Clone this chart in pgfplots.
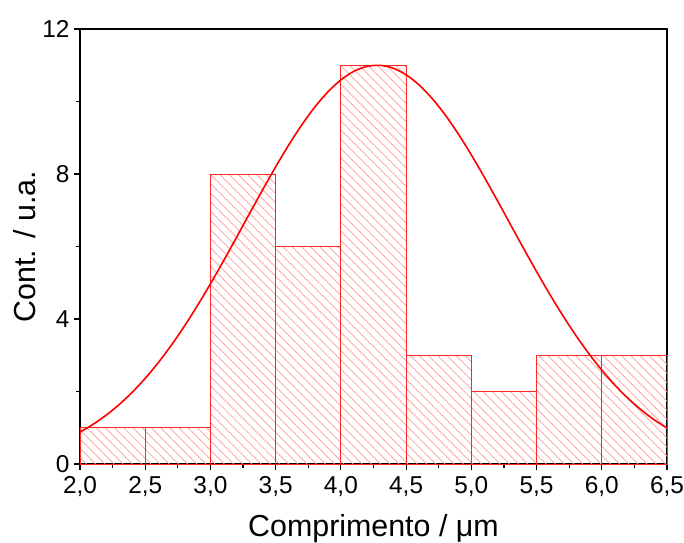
\documentclass[border=0pt]{standalone}
\usepackage{fontspec}
\setmainfont{Liberation Sans}
\usepackage{pgfplots}
\pgfplotsset{compat=1.18}
\usetikzlibrary{patterns.meta}
\begin{document}
\begin{tikzpicture}
\begin{axis}[
  scale only axis,
  width=587bp, height=435bp,
  xmin=2, xmax=6.5, ymin=0, ymax=12,
  xtick={2,2.5,...,6.5},
  ytick={0,4,8,12},
  minor x tick num=1, minor y tick num=1,
  tick align=outside,
  xtick pos=bottom, ytick pos=left,
  major tick length=6bp, minor tick length=3.5bp,
  every tick/.style={black, line width=1.2bp},
  axis line style={black, line width=1.6bp},
  tick label style={font=\fontsize{24.5}{28}\selectfont},
  /pgf/number format/assume math mode=true,
  xticklabel style={yshift=-3bp, /pgf/number format/.cd, fixed, fixed zerofill, precision=1, use comma},
  yticklabel style={xshift=-1bp, /pgf/number format/.cd, fixed, precision=0},
  xlabel={Comprimento / μm},
  ylabel={Cont. / u.a.},
  label style={font=\fontsize{30.5}{34}\selectfont},
  xlabel style={yshift=-11bp},
  ylabel style={yshift=0bp},
  clip=false,
]
\addplot[ybar interval, draw=red!85, line width=0.9bp,
  pattern={Lines[angle=-45, distance=6.5bp, line width=0.7bp]}, pattern color=red!40]
  coordinates {(2.0,1) (2.5,1) (3.0,8) (3.5,6) (4.0,11) (4.5,3) (5.0,2) (5.5,3) (6.0,3) (6.5,3)};
\addplot[red, line width=1.6bp, smooth] coordinates {
(2.0,0.880) (2.1,1.094) (2.2,1.345) (2.3,1.639) (2.4,1.978) (2.5,2.363)
(2.6,2.796) (2.7,3.276) (2.8,3.801) (2.9,4.368) (3.0,4.971) (3.1,5.602)
(3.2,6.252) (3.3,6.910) (3.4,7.563) (3.5,8.197) (3.6,8.799) (3.7,9.353)
(3.8,9.846) (3.9,10.264) (4.0,10.596) (4.1,10.833) (4.2,10.968) (4.3,10.997)
(4.4,10.919) (4.5,10.737) (4.6,10.455) (4.7,10.082) (4.8,9.628) (4.9,9.105)
(5.0,8.527) (5.1,7.909) (5.2,7.264) (5.3,6.607) (5.4,5.951) (5.5,5.309)
(5.6,4.689) (5.7,4.103) (5.8,3.554) (5.9,3.049) (6.0,2.591) (6.1,2.179)
(6.2,1.816) (6.3,1.499) (6.4,1.225) (6.5,0.991)};
\path (rel axis cs:0,0) ++(-80bp,-79bp) coordinate (bbA);
\path (rel axis cs:1,1) ++(17bp,29bp) coordinate (bbB);
\end{axis}
\pgfresetboundingbox
\path[use as bounding box] (bbA) rectangle (bbB);
\end{tikzpicture}
\end{document}
